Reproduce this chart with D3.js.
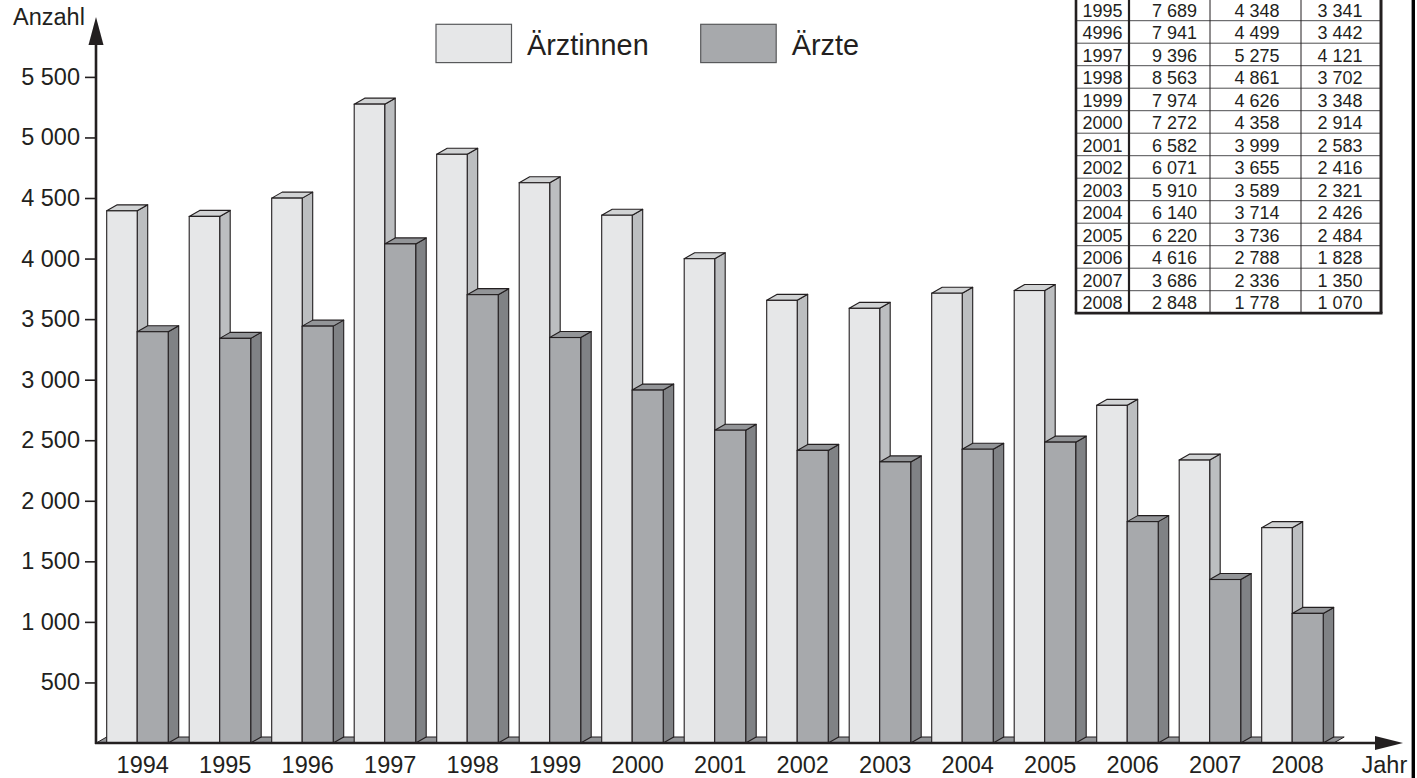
<!DOCTYPE html>
<html>
<head>
<meta charset="utf-8">
<script src="https://cdn.jsdelivr.net/npm/d3@7"></script>
<style>
  html, body { margin: 0; padding: 0; background: #fff; }
  svg { display: block; }
  text { font-family: "Liberation Sans", Arial, Helvetica, sans-serif; fill: #231f20; }
</style>
</head>
<body>
<svg id="chart" width="1417" height="778"></svg>
<script>
// ---------- data ----------
const years = [1994, 1995, 1996, 1997, 1998, 1999, 2000, 2001, 2002, 2003, 2004, 2005, 2006, 2007, 2008];
const aerztinnen = [4394, 4348, 4499, 5275, 4861, 4626, 4358, 3999, 3655, 3589, 3714, 3736, 2788, 2336, 1778];
const aerzte = [3396, 3341, 3442, 4121, 3702, 3348, 2914, 2583, 2416, 2321, 2426, 2484, 1828, 1350, 1070];
const yTicks = [500, 1000, 1500, 2000, 2500, 3000, 3500, 4000, 4500, 5000, 5500];
const seriesNames = ["Ärztinnen", "Ärzte"];

const tableYears = ["1995", "4996", "1997", "1998", "1999", "2000", "2001", "2002", "2003", "2004", "2005", "2006", "2007", "2008"];
const tableTotal = [7689, 7941, 9396, 8563, 7974, 7272, 6582, 6071, 5910, 6140, 6220, 4616, 3686, 2848];
const tableAerztinnen = [4348, 4499, 5275, 4861, 4626, 4358, 3999, 3655, 3589, 3714, 3736, 2788, 2336, 1778];
const tableAerzte = [3341, 3442, 4121, 3702, 3348, 2914, 2583, 2416, 2321, 2426, 2484, 1828, 1350, 1070];

// ---------- setup ----------
const svg = d3.select("#chart");
const locale = d3.formatLocale({ decimal: ",", thousands: " ", grouping: [3], currency: ["", ""] });
const fmt = locale.format(",d");

const y0 = 743;
const y = d3.scaleLinear().domain([0, 5500]).range([y0, 76.9]);
const x = d3.scaleBand().domain(years).range([106.7, 1333.7]).paddingInner(10.5 / 82.5).paddingOuter(0);

const dx = 10.5, dy = 6;
const wLight = 30.5, wDark = 31;
const stroke = "#231f20";
const col = {
  lightFront: "#e6e7e8", lightSide: "#bcbec0", lightTop: "#d1d3d4",
  darkFront: "#a7a9ac", darkSide: "#808285", darkTop: "#939598",
  floor: "#939598"
};

// ---------- floor ----------
const fx0 = x(years[0]) - dx, fx1 = x(years[years.length - 1]) + x.bandwidth();
svg.append("path")
  .attr("d", `M${fx0},${y0} L${fx0 + dx},${y0 - dy} L${fx1 + dx},${y0 - dy} L${fx1},${y0} Z`)
  .attr("fill", col.floor).attr("stroke", stroke).attr("stroke-width", 1);

// ---------- bars ----------
function box(g, x0, w, v, front, side, top) {
  const yt = y(v);
  g.append("path")
    .attr("d", `M${x0 + w},${y0} L${x0 + w + dx},${y0 - dy} L${x0 + w + dx},${yt - dy} L${x0 + w},${yt} Z`)
    .attr("fill", side).attr("stroke", stroke).attr("stroke-width", 1.1).attr("stroke-linejoin", "round");
  g.append("path")
    .attr("d", `M${x0},${yt} L${x0 + dx},${yt - dy} L${x0 + w + dx},${yt - dy} L${x0 + w},${yt} Z`)
    .attr("fill", top).attr("stroke", stroke).attr("stroke-width", 1.1).attr("stroke-linejoin", "round");
  g.append("rect")
    .attr("x", x0).attr("y", yt).attr("width", w).attr("height", y0 - yt)
    .attr("fill", front).attr("stroke", stroke).attr("stroke-width", 1.1);
}

const groups = svg.append("g").selectAll("g").data(years).join("g");
groups.each(function (yr, i) {
  const g = d3.select(this);
  const bx = x(yr);
  box(g, bx, wLight, aerztinnen[i], col.lightFront, col.lightSide, col.lightTop);
  box(g, bx + wLight, wDark, aerzte[i], col.darkFront, col.darkSide, col.darkTop);
});

// ---------- y axis ----------
const yAxis = svg.append("g").attr("transform", "translate(96,0)")
  .call(d3.axisLeft(y).tickValues(yTicks).tickFormat(fmt).tickSize(11).tickPadding(5));
yAxis.select(".domain").remove();
yAxis.selectAll(".tick line").attr("stroke", stroke).attr("stroke-width", 1.6);
yAxis.selectAll(".tick text").attr("font-size", 23.5).attr("fill", stroke)
  .style("font-family", '"Liberation Sans", Arial, Helvetica, sans-serif');

svg.append("line").attr("x1", 96).attr("x2", 96).attr("y1", y0 + 1).attr("y2", 40)
  .attr("stroke", stroke).attr("stroke-width", 2.6);
svg.append("path").attr("d", "M96,17 L103.5,45 L88.5,45 Z").attr("fill", stroke);
svg.append("text").attr("x", 13).attr("y", 25).attr("font-size", 23.5).text("Anzahl");

// ---------- x axis ----------
const xAxis = svg.append("g").attr("transform", `translate(0,${y0})`)
  .call(d3.axisBottom(x).tickSize(0).tickPadding(13.3));
xAxis.select(".domain").remove();
xAxis.selectAll(".tick text").attr("font-size", 23.5).attr("fill", stroke)
  .style("font-family", '"Liberation Sans", Arial, Helvetica, sans-serif');

svg.append("line").attr("x1", 95).attr("x2", 1385).attr("y1", y0).attr("y2", y0)
  .attr("stroke", stroke).attr("stroke-width", 2.4);
svg.append("path").attr("d", `M1403,${y0} L1375,${y0 - 7} L1375,${y0 + 7} Z`).attr("fill", stroke);
svg.append("text").attr("x", 1361.5).attr("y", 772.7).attr("font-size", 23.5).text("Jahr");

// ---------- legend ----------
const legendItems = [
  { name: seriesNames[0], bx: 436, tx: 527, fill: col.lightFront },
  { name: seriesNames[1], bx: 700.7, tx: 791.7, fill: col.darkFront }
];
const lg = svg.append("g").selectAll("g").data(legendItems).join("g");
lg.append("rect").attr("x", d => d.bx).attr("y", 24.3).attr("width", 75.5).attr("height", 38.3)
  .attr("fill", d => d.fill).attr("stroke", "#58595b").attr("stroke-width", 1.2);
lg.append("text").attr("x", d => d.tx).attr("y", 55).attr("font-size", 28.8).text(d => d.name);

// ---------- table ----------
const tbl = svg.append("g");
const rowH = 22.5, rowTop0 = -1.8;
const colX = [1076, 1129, 1210, 1301, 1381];
const colCenter = [1102.5, 1174.5, 1257, 1340];
const nRows = tableYears.length;
const tBottom = rowTop0 + nRows * rowH;

tbl.append("rect").attr("x", colX[0]).attr("y", -10).attr("width", colX[4] - colX[0]).attr("height", tBottom + 10)
  .attr("fill", "#fff");

tbl.selectAll("line.row").data(d3.range(0, nRows)).join("line").attr("class", "row")
  .attr("x1", colX[0]).attr("x2", colX[4])
  .attr("y1", i => rowTop0 + i * rowH).attr("y2", i => rowTop0 + i * rowH)
  .attr("stroke", "#4d4d4f").attr("stroke-width", 1);

const colW = [2.6, 2.2, 1, 1, 3];
tbl.selectAll("line.col").data(colX).join("line").attr("class", "col")
  .attr("x1", d => d).attr("x2", d => d).attr("y1", -10).attr("y2", tBottom)
  .attr("stroke", stroke).attr("stroke-width", (d, i) => colW[i]);
tbl.append("line").attr("x1", colX[0] - 1.3).attr("x2", colX[4] + 1.5).attr("y1", tBottom).attr("y2", tBottom)
  .attr("stroke", stroke).attr("stroke-width", 2.8);

const rows = tbl.selectAll("g.r").data(tableYears).join("g").attr("class", "r");
rows.each(function (yl, i) {
  const g = d3.select(this);
  const vals = [yl, fmt(tableTotal[i]), fmt(tableAerztinnen[i]), fmt(tableAerzte[i])];
  g.selectAll("text").data(vals).join("text")
    .attr("x", (d, j) => colCenter[j]).attr("y", rowTop0 + (i + 1) * rowH - 4.2)
    .attr("text-anchor", "middle").attr("font-size", 18).text(d => d);
});

// ---------- page border ----------
svg.append("line").attr("x1", 1413.3).attr("x2", 1413.3).attr("y1", 0).attr("y2", 778)
  .attr("stroke", "#000").attr("stroke-width", 3.4);
</script>
</body>
</html>
